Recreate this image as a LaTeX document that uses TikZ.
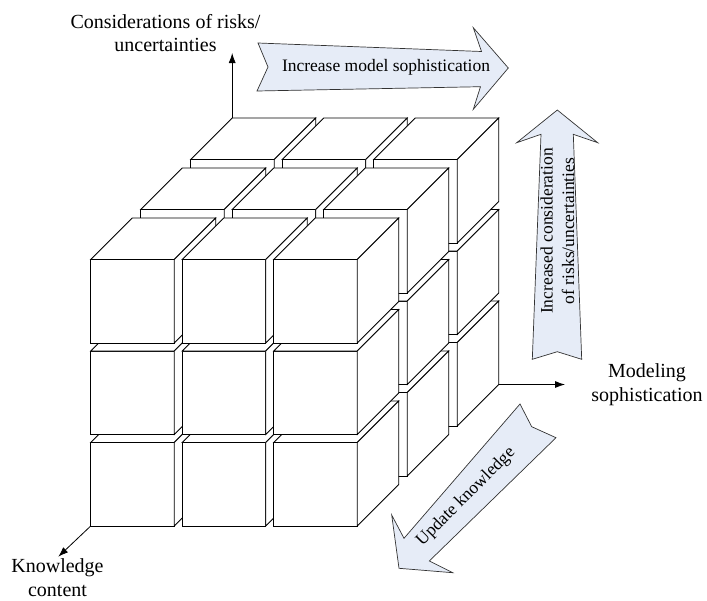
\documentclass[tikz,border=0pt]{standalone}
\usepackage{fontspec}
\setmainfont{Liberation Serif}
\usetikzlibrary{arrows.meta}
\definecolor{arrowfill}{RGB}{230,236,247}

\begin{document}
\begin{tikzpicture}[x=1pt,y=-1pt,
  face/.style={draw=black,fill=white,line width=0.8pt,line join=miter},
  axis/.style={draw=black,line width=0.8pt,-{Latex[length=10pt,width=7pt]}},
  bigarrow/.style={draw=black!80,fill=arrowfill,line width=0.7pt,line join=miter},
  axislabel/.style={align=center,font=\fontsize{20}{23.7}\selectfont,inner sep=0pt},
  arrowlabel/.style={align=center,font=\fontsize{17.5}{21.5}\selectfont,inner sep=0pt}]
\useasboundingbox (0,0) rectangle (707,600);
\foreach \k in {2,1,0} {
  \foreach \j in {0,1,2} {
    \foreach \i in {0,1,2} {
      \pgfmathsetmacro\cx{90.7+91.5*\i+50*\k}
      \pgfmathsetmacro\cy{526-91.5*\j-50*\k}
      \draw[face] (\cx,\cy) rectangle ++(83.5,-83.5);
      \draw[face] (\cx,\cy-83.5) -- ++(41.5,-41.5) -- ++(83.5,0) -- ++(-41.5,41.5) -- cycle;
      \draw[face] (\cx+83.5,\cy) -- ++(41.5,-41.5) -- ++(0,-83.5) -- ++(-41.5,41.5) -- cycle;
    }
  }
}
\coordinate (riskO) at (232.2,118);
\coordinate (riskend) at (232.2,53);
\coordinate (modO) at (498.7,384.5);
\coordinate (modend) at (565,384.5);
\coordinate (knowO) at (90.7,526);
\coordinate (knowend) at (58.3,556.7);
\draw[axis] (riskO) -- (riskend);
\draw[axis] (modO) -- (modend);
\draw[axis] (knowO) -- (knowend);
\node[axislabel] (risk) at (165.5,33) {Considerations of risks/\\uncertainties};
\node[axislabel] (model) at (647,385) {Modeling\\sophistication};
\node[axislabel] (know) at (57.5,578) {Knowledge\\content};

\draw[bigarrow] (258,43) -- (481.5,51.5) -- (473.3,27.7) -- (508.3,68) -- (473.3,109.3)
  -- (480.5,86.7) -- (257,91) -- (268,67) -- cycle;
\node[arrowlabel] (incmodel) at (386,67) {Increase model sophistication};
\draw[bigarrow] (557.3,110) -- (597.7,142.7) -- (573.3,134.3) -- (581.7,359.3)
  -- (557.3,351.7) -- (532.3,359.3) -- (541,134.3) -- (516.7,142.7) -- cycle;
\node[arrowlabel,rotate=90] (incrisk) at (557.5,231) {Increased consideration\\of risks/uncertainties};
\draw[bigarrow] (520,404) -- (404,538.3) -- (391.7,515) -- (399,568.3) -- (452.7,572.7)
  -- (429.3,561) -- (556,437.7) -- (531.7,426.7) -- cycle;
\node[arrowlabel,rotate=45] (update) at (466,497) {Update knowledge};
\end{tikzpicture}
\end{document}
